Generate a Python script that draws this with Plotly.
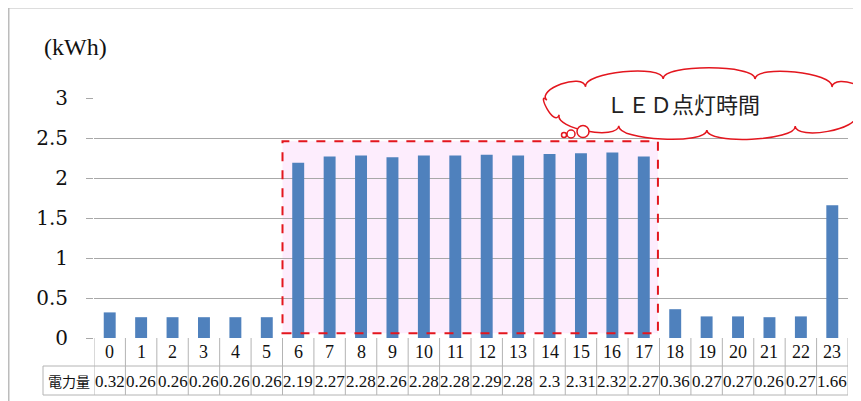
import math
import plotly.graph_objects as go

# ---------------- data ----------------
hours = list(range(24))
hour_labels = [str(h) for h in hours]
energy_kwh = [0.32, 0.26, 0.26, 0.26, 0.26, 0.26, 2.19, 2.27, 2.28, 2.26, 2.28, 2.28,
              2.29, 2.28, 2.3, 2.31, 2.32, 2.27, 0.36, 0.27, 0.27, 0.26, 0.27, 1.66]
value_labels = ["0.32", "0.26", "0.26", "0.26", "0.26", "0.26", "2.19", "2.27", "2.28", "2.26",
                "2.28", "2.28", "2.29", "2.28", "2.3", "2.31", "2.32", "2.27", "0.36", "0.27",
                "0.27", "0.26", "0.27", "1.66"]
row_label = "電力量"
unit_label = "(kWh)"
callout_text = "ＬＥＤ点灯時間"
led_start, led_end = 6, 17

# ---------------- geometry helpers ----------------
# the page body adds an 8px margin, so the figure is drawn 8px smaller
OFF = 8
W, H = 861 - OFF, 401 - OFF
PL, PR, PT, PB = 94, 848, 98, 338          # plot area in page pixels
ML, MT = PL - OFF, PT - OFF
MR, MB = W - (PR - OFF), H - (PB - OFF)
PW, PH = PR - PL, PB - PT

def px(x):
    return (x - PL) / PW

def py(y):
    return (PB - y) / PH

SERIF = "DejaVu Serif"
SERIF2 = "Liberation Serif"
SANS = "Noto Sans CJK JP"
GRID = "#a8a8a8"
TABLE = "#b4b4b4"
RED = "#e3161e"

fig = go.Figure()
fig.add_trace(go.Bar(x=hours, y=energy_kwh, width=0.38,
                     marker=dict(color="#4f81bd", line=dict(width=0)),
                     hoverinfo="x+y"))

shapes = []
# LED period highlight
shapes.append(dict(type="rect", xref="x", yref="y", x0=led_start - 0.5, x1=led_end + 0.45,
                   y0=0.06, y1=2.46, fillcolor="#fdedfd", line=dict(width=0), layer="below"))
shapes.append(dict(type="rect", xref="x", yref="y", x0=led_start - 0.5, x1=led_end + 0.45,
                   y0=0.06, y1=2.46, fillcolor="rgba(0,0,0,0)",
                   line=dict(color=RED, width=2, dash="dash"), layer="above"))

# table lines
y_top, y_mid, y_bot = 0, py(366), py(395)
shapes.append(dict(type="line", xref="paper", yref="paper", x0=px(43), x1=1, y0=y_mid, y1=y_mid,
                   line=dict(color=TABLE, width=1)))
shapes.append(dict(type="line", xref="paper", yref="paper", x0=px(43), x1=1, y0=y_bot, y1=y_bot,
                   line=dict(color=TABLE, width=1)))
shapes.append(dict(type="line", xref="paper", yref="paper", x0=px(43), x1=px(43), y0=y_mid, y1=y_bot,
                   line=dict(color=TABLE, width=1)))
for k in range(-1, 24):
    shapes.append(dict(type="line", xref="x", yref="paper", x0=k + 0.5, x1=k + 0.5, y0=y_top, y1=y_bot,
                       line=dict(color=TABLE, width=1)))

# outer frame
shapes.append(dict(type="line", xref="paper", yref="paper", x0=px(8.5), x1=px(8.5), y0=py(7.5), y1=py(405),
                   line=dict(color="#bcbcbc", width=2)))
shapes.append(dict(type="line", xref="paper", yref="paper", x0=px(8.5), x1=px(870), y0=py(7.5), y1=py(7.5),
                   line=dict(color="#bcbcbc", width=2)))

# cloud callout
def cloud_path(cx, cy, rx, ry, n, b):
    pts = []
    for i in range(n + 1):
        a = math.pi + 2 * math.pi * i / n + 0.15
        x = cx + rx * math.cos(a)
        y = cy + ry * math.sin(a)
        dx, dy = (x - cx) / rx ** 2, (y - cy) / ry ** 2
        L = math.hypot(dx, dy)
        pts.append((x, y, dx / L, dy / L))
    d = "M %.4f,%.4f" % (px(pts[0][0]), py(pts[0][1]))
    for i in range(n):
        x0, y0, nx0, ny0 = pts[i]
        x1, y1, nx1, ny1 = pts[i + 1]
        c1 = (x0 + nx0 * b, y0 + ny0 * b)
        c2 = (x1 + nx1 * b, y1 + ny1 * b)
        d += " C %.4f,%.4f %.4f,%.4f %.4f,%.4f" % (px(c1[0]), py(c1[1]), px(c2[0]), py(c2[1]),
                                                     px(x1), py(y1))
    return d + " Z"

shapes.append(dict(type="path", xref="paper", yref="paper", path=cloud_path(708, 104, 163, 26, 11, 15),
                   fillcolor="white", line=dict(color=RED, width=1.5), layer="above"))
for (cx, cy, r) in [(564, 135, 2.5), (571, 134, 4), (583, 131.5, 6)]:
    shapes.append(dict(type="circle", xref="paper", yref="paper",
                       x0=px(cx - r), x1=px(cx + r), y0=py(cy + r), y1=py(cy - r),
                       fillcolor="white", line=dict(color=RED, width=1.5), layer="above"))

annotations = []
annotations.append(dict(text=unit_label, xref="paper", yref="paper", x=px(75), y=py(47),
                        showarrow=False, font=dict(family=SERIF2, size=24, color="#111"),
                        xanchor="center", yanchor="middle"))
annotations.append(dict(text=callout_text, xref="paper", yref="paper", x=px(683), y=py(103),
                        showarrow=False, font=dict(family=SANS, size=22, color="#222"),
                        xanchor="center", yanchor="middle"))
annotations.append(dict(text=row_label, xref="paper", yref="paper", x=px(68.5), y=py(381),
                        showarrow=False, font=dict(family=SANS, size=14, color="#111"),
                        xanchor="center", yanchor="middle"))
for h, lab, val in zip(hours, hour_labels, value_labels):
    annotations.append(dict(text=lab, xref="x", yref="paper", x=h, y=py(352),
                            showarrow=False, font=dict(family=SERIF2, size=18, color="#111"),
                            xanchor="center", yanchor="middle"))
    annotations.append(dict(text=val, xref="x", yref="paper", x=h, y=py(381),
                            showarrow=False, font=dict(family=SERIF2, size=17, color="#111"),
                            xanchor="center", yanchor="middle"))

fig.update_layout(
    width=W, height=H,
    margin=dict(l=ML, r=MR, t=MT, b=MB, pad=0),
    paper_bgcolor="white", plot_bgcolor="white",
    showlegend=False,
    shapes=shapes, annotations=annotations,
    xaxis=dict(range=[-0.5, 23.5], showticklabels=False, showgrid=False, zeroline=False,
               showline=False, ticks="", fixedrange=True),
    yaxis=dict(range=[0, 3], dtick=0.5, tick0=0, showgrid=True, gridcolor=GRID, gridwidth=1,
               zeroline=False, showline=False, ticks="outside", ticklen=7, tickcolor=GRID,
               tickwidth=1, ticklabelstandoff=14,
               tickfont=dict(family=SERIF, size=20, color="#111"), fixedrange=True),
)

fig.write_html("out.html")
